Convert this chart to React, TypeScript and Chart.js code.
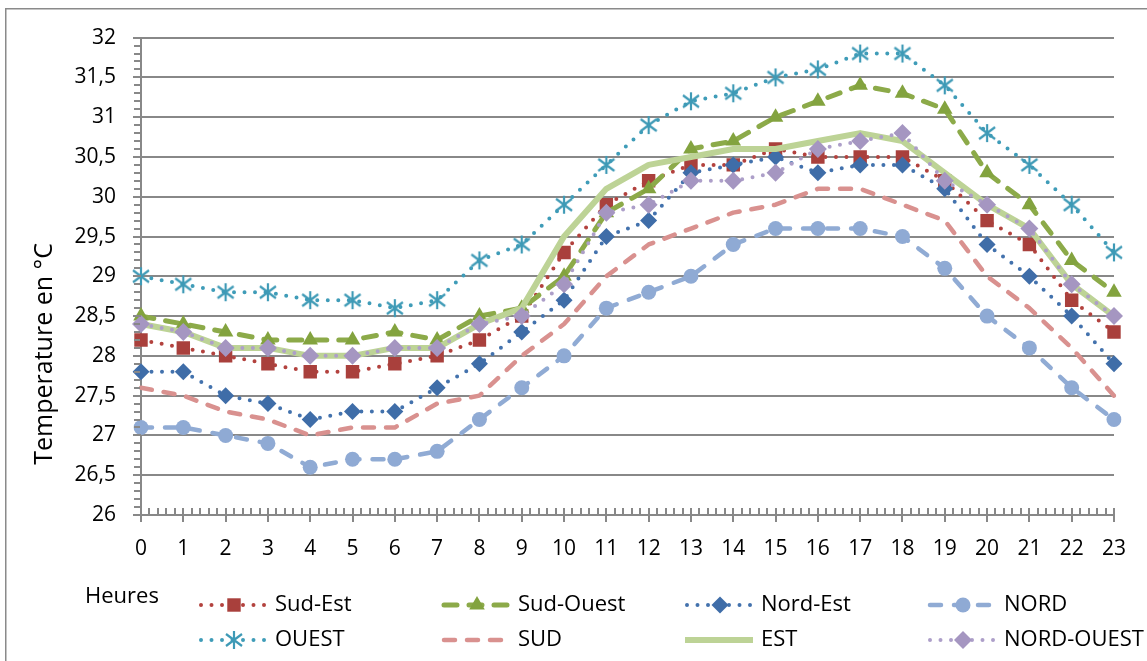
import { useEffect, useRef } from 'react';
import { Chart, registerables } from 'chart.js';

Chart.register(...registerables);

// Hourly temperatures (°C) per façade orientation
const HOURS = ['0', '1', '2', '3', '4', '5', '6', '7', '8', '9', '10', '11', '12', '13', '14', '15', '16', '17', '18', '19', '20', '21', '22', '23'];
const SUD_EST = [28.2, 28.1, 28.0, 27.9, 27.8, 27.8, 27.9, 28.0, 28.2, 28.5, 29.3, 29.9, 30.2, 30.4, 30.4, 30.6, 30.5, 30.5, 30.5, 30.2, 29.7, 29.4, 28.7, 28.3];
const SUD_OUEST = [28.5, 28.4, 28.3, 28.2, 28.2, 28.2, 28.3, 28.2, 28.5, 28.6, 29.0, 29.8, 30.1, 30.6, 30.7, 31.0, 31.2, 31.4, 31.3, 31.1, 30.3, 29.9, 29.2, 28.8];
const NORD_EST = [27.8, 27.8, 27.5, 27.4, 27.2, 27.3, 27.3, 27.6, 27.9, 28.3, 28.7, 29.5, 29.7, 30.3, 30.4, 30.5, 30.3, 30.4, 30.4, 30.1, 29.4, 29.0, 28.5, 27.9];
const NORD = [27.1, 27.1, 27.0, 26.9, 26.6, 26.7, 26.7, 26.8, 27.2, 27.6, 28.0, 28.6, 28.8, 29.0, 29.4, 29.6, 29.6, 29.6, 29.5, 29.1, 28.5, 28.1, 27.6, 27.2];
const OUEST = [29.0, 28.9, 28.8, 28.8, 28.7, 28.7, 28.6, 28.7, 29.2, 29.4, 29.9, 30.4, 30.9, 31.2, 31.3, 31.5, 31.6, 31.8, 31.8, 31.4, 30.8, 30.4, 29.9, 29.3];
const SUD = [27.6, 27.5, 27.3, 27.2, 27.0, 27.1, 27.1, 27.4, 27.5, 28.0, 28.4, 29.0, 29.4, 29.6, 29.8, 29.9, 30.1, 30.1, 29.9, 29.7, 29.0, 28.6, 28.1, 27.5];
const EST = [28.4, 28.3, 28.1, 28.1, 28.0, 28.0, 28.1, 28.1, 28.4, 28.6, 29.5, 30.1, 30.4, 30.5, 30.6, 30.6, 30.7, 30.8, 30.7, 30.3, 29.9, 29.6, 28.9, 28.5];
const NORD_OUEST = [28.4, 28.3, 28.1, 28.1, 28.0, 28.0, 28.1, 28.1, 28.4, 28.5, 28.9, 29.8, 29.9, 30.2, 30.2, 30.3, 30.6, 30.7, 30.8, 30.2, 29.9, 29.6, 28.9, 28.5];

const Y_MIN = 26;
const Y_MAX = 32;
const Y_STEP = 0.5;

const Y_TITLE = 'Temperature en °C';
const X_TITLE = 'Heures';

const FONT = '"Open Sans", "DejaVu Sans", sans-serif';
const GRID = '#888888';

type Marker = 'rect' | 'triangle' | 'rectRot' | 'circle' | 'asterisk' | null;

interface SeriesStyle {
  label: string;
  data: number[];
  line: string;
  mark: string;
  width: number;
  dash: number[];
  cap: CanvasLineCap;
  marker: Marker;
  radius: number;
}

const SERIES: SeriesStyle[] = [
  { label: 'Sud-Est', data: SUD_EST, line: '#B3423E', mark: '#A9403C', width: 4, dash: [0, 10.5], cap: 'round', marker: 'rect', radius: 9.5 },
  { label: 'Sud-Ouest', data: SUD_OUEST, line: '#8CAA49', mark: '#83A33F', width: 5, dash: [13, 12], cap: 'round', marker: 'triangle', radius: 9 },
  { label: 'Nord-Est', data: NORD_EST, line: '#4372AD', mark: '#3F6DA8', width: 4, dash: [0, 10.5], cap: 'round', marker: 'rectRot', radius: 8.5 },
  { label: 'NORD', data: NORD, line: '#90ABD4', mark: '#8FAAD4', width: 4.5, dash: [11, 13], cap: 'round', marker: 'circle', radius: 7.5 },
  { label: 'OUEST', data: OUEST, line: '#3F9CB8', mark: '#3E9AB6', width: 4, dash: [0, 10.5], cap: 'round', marker: 'asterisk', radius: 9 },
  { label: 'SUD', data: SUD, line: '#D9918F', mark: '#D9918F', width: 4.5, dash: [11, 12], cap: 'round', marker: null, radius: 0 },
  { label: 'EST', data: EST, line: '#BDD396', mark: '#BDD396', width: 6, dash: [], cap: 'butt', marker: null, radius: 0 },
  { label: 'NORD-OUEST', data: NORD_OUEST, line: '#AD9FC9', mark: '#A596C1', width: 4, dash: [0, 10.5], cap: 'round', marker: 'rectRot', radius: 9 },
];

function makeAsterisk(color: string): HTMLCanvasElement {
  const c = document.createElement('canvas');
  c.width = 20;
  c.height = 20;
  const g = c.getContext('2d')!;
  g.strokeStyle = color;
  g.lineWidth = 2.2;
  g.beginPath();
  g.moveTo(10, 1);
  g.lineTo(10, 19);
  g.moveTo(2, 4);
  g.lineTo(18, 16);
  g.moveTo(2, 16);
  g.lineTo(18, 4);
  g.stroke();
  return c;
}

function drawMarker(ctx: CanvasRenderingContext2D, s: SeriesStyle, x: number, y: number, img: HTMLCanvasElement | null) {
  if (!s.marker) return;
  const r = s.radius;
  ctx.save();
  ctx.setLineDash([]);
  ctx.fillStyle = s.mark;
  ctx.beginPath();
  switch (s.marker) {
    case 'rect': {
      const h = Math.SQRT1_2 * r;
      ctx.rect(x - h, y - h, 2 * h, 2 * h);
      break;
    }
    case 'triangle': {
      let a = 0;
      ctx.moveTo(x + Math.sin(a) * r, y - Math.cos(a) * r);
      a += (2 * Math.PI) / 3;
      ctx.lineTo(x + Math.sin(a) * r, y - Math.cos(a) * r);
      a += (2 * Math.PI) / 3;
      ctx.lineTo(x + Math.sin(a) * r, y - Math.cos(a) * r);
      ctx.closePath();
      break;
    }
    case 'rectRot':
      ctx.moveTo(x - r, y);
      ctx.lineTo(x, y - r);
      ctx.lineTo(x + r, y);
      ctx.lineTo(x, y + r);
      ctx.closePath();
      break;
    case 'circle':
      ctx.arc(x, y, r, 0, Math.PI * 2);
      break;
    case 'asterisk':
      if (img) ctx.drawImage(img, x - img.width / 2, y - img.height / 2);
      ctx.restore();
      return;
  }
  ctx.fill();
  ctx.restore();
}

export default function App() {
  const canvasRef = useRef<HTMLCanvasElement | null>(null);

  useEffect(() => {
    const canvas = canvasRef.current;
    if (!canvas) return;
    const asterisk = makeAsterisk('#3E9AB6');

    const decor = {
      id: 'decor',
      beforeDraw(chart: any) {
        const { ctx, width, height } = chart;
        ctx.save();
        ctx.fillStyle = '#ffffff';
        ctx.fillRect(0, 0, width, height);
        // outer frame of the chart
        ctx.strokeStyle = '#8a8a8a';
        ctx.lineWidth = 1.5;
        ctx.strokeRect(5.75, 8.75, width + 20, height + 20);
        ctx.restore();
      },
      afterDraw(chart: any) {
        const { ctx, chartArea } = chart;
        const xs = chart.scales.x;
        const ys = chart.scales.y;
        ctx.save();
        ctx.strokeStyle = GRID;
        ctx.lineWidth = 2;
        ctx.setLineDash([]);
        ctx.beginPath();
        // y axis: major and minor tick marks
        for (let k = 0; k <= (Y_MAX - Y_MIN) * 10; k++) {
          const py = Math.round(ys.getPixelForValue(Y_MIN + k / 10));
          if (k % 5 === 0) {
            ctx.moveTo(chartArea.left - 8, py);
            ctx.lineTo(chartArea.left, py);
          } else {
            ctx.moveTo(chartArea.left - 7, py);
            ctx.lineTo(chartArea.left - 1, py);
          }
        }
        // x axis: major and minor tick marks
        const bottom = chartArea.bottom;
        for (let i = 0; i < HOURS.length; i++) {
          const px = Math.round(xs.getPixelForValue(i));
          ctx.moveTo(px, bottom - 7);
          ctx.lineTo(px, bottom + 7);
          if (i < HOURS.length - 1) {
            const nx = xs.getPixelForValue(i + 1);
            for (let m = 1; m < 5; m++) {
              const mx = Math.round(px + ((nx - px) * m) / 5);
              ctx.moveTo(mx, bottom - 7);
              ctx.lineTo(mx, bottom);
            }
          }
        }
        ctx.stroke();

        // y axis title
        ctx.fillStyle = '#000000';
        ctx.font = `25px ${FONT}`;
        const tw = ctx.measureText(Y_TITLE).width;
        ctx.translate(52, 243 + tw);
        ctx.rotate(-Math.PI / 2);
        ctx.textAlign = 'left';
        ctx.textBaseline = 'alphabetic';
        ctx.fillText(Y_TITLE, 0, 0);
        ctx.setTransform(1, 0, 0, 1, 0, 0);

        // x axis title
        ctx.font = `22px ${FONT}`;
        ctx.textBaseline = 'middle';
        ctx.fillText(X_TITLE, 85, 597);

        // legend
        const colX = [199, 442, 685, 928];
        const rowY = [605, 640];
        SERIES.forEach((s, i) => {
          const x0 = colX[i % 4];
          const y0 = rowY[Math.floor(i / 4)];
          ctx.save();
          ctx.strokeStyle = s.line;
          ctx.lineWidth = s.width;
          ctx.lineCap = s.cap;
          ctx.setLineDash(s.dash);
          ctx.beginPath();
          ctx.moveTo(x0 + (s.cap === 'round' ? 2 : 0), y0);
          ctx.lineTo(x0 + 68, y0);
          ctx.stroke();
          ctx.restore();
          drawMarker(ctx, s, x0 + 35, y0, asterisk);
          ctx.fillStyle = '#000000';
          ctx.font = `22px ${FONT}`;
          ctx.textAlign = 'left';
          ctx.textBaseline = 'middle';
          ctx.fillText(s.label, x0 + 76, y0);
        });
        ctx.restore();
      },
    };

    const chart = new Chart(canvas, {
      type: 'line',
      data: {
        labels: HOURS,
        datasets: SERIES.map((s, i) => ({
          label: s.label,
          data: s.data,
          borderColor: s.line,
          backgroundColor: s.mark,
          borderWidth: s.width,
          borderDash: s.dash,
          borderCapStyle: s.cap,
          borderJoinStyle: 'round',
          pointStyle: s.marker === 'asterisk' ? asterisk : s.marker ? s.marker : false,
          pointRadius: s.marker ? s.radius : 0,
          pointHoverRadius: s.marker ? s.radius : 0,
          pointBackgroundColor: s.mark,
          pointBorderColor: s.mark,
          pointBorderWidth: 0,
          tension: 0,
          fill: false,
          order: SERIES.length - i,
        })) as any,
      },
      options: {
        animation: false,
        responsive: false,
        devicePixelRatio: 1,
        layout: { padding: { left: 0, top: 37, right: 20, bottom: 96 } },
        plugins: {
          legend: { display: false },
          tooltip: { enabled: false },
        },
        scales: {
          x: {
            type: 'category',
            offset: false,
            grid: { display: false, drawTicks: false },
            border: { display: false },
            ticks: {
              color: '#000000',
              font: { family: FONT, size: 21 },
              padding: 21,
              maxRotation: 0,
              autoSkip: false,
            },
            afterFit: (s: any) => {
              s.height = 50;
            },
          },
          y: {
            min: Y_MIN,
            max: Y_MAX,
            ticks: {
              stepSize: Y_STEP,
              color: '#000000',
              font: { family: FONT, size: 21 },
              padding: 25,
              callback: (v: any) => String(v).replace('.', ','),
            },
            grid: { color: GRID, lineWidth: 2, drawTicks: false },
            border: { color: GRID, width: 2 },
            afterFit: (s: any) => {
              s.width = 141;
            },
          },
        },
      },
      plugins: [decor],
    });

    return () => chart.destroy();
  }, []);

  return (
    <div style={{ position: 'fixed', left: 0, top: 0, width: 1147, height: 661, background: '#ffffff' }}>
      <canvas ref={canvasRef} width={1147} height={661} style={{ display: 'block', width: 1147, height: 661 }} />
    </div>
  );
}
